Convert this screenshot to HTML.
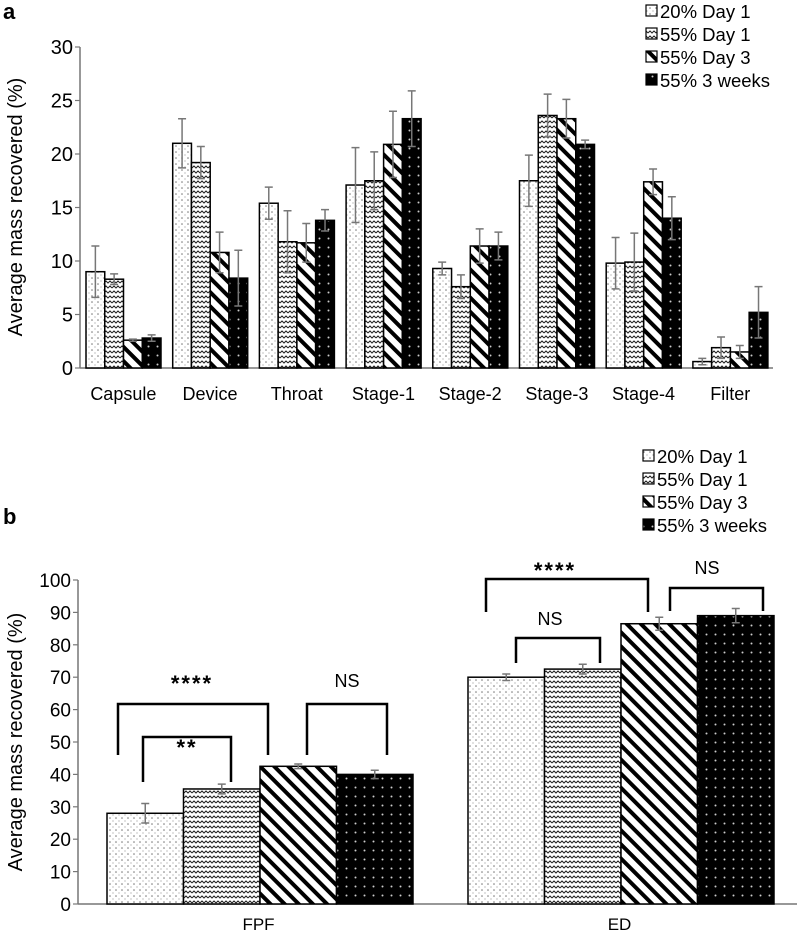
<!DOCTYPE html>
<html><head><meta charset="utf-8"><style>
body{margin:0;background:#fff}
svg{display:block;font-family:"Liberation Sans",sans-serif}
</style></head><body>
<svg id="c" width="800" height="937" viewBox="0 0 800 937">
<defs>
<pattern id="p0" width="6" height="6" patternUnits="userSpaceOnUse"><rect width="6" height="6" fill="#fff"/><circle cx="2" cy="2" r="0.8" fill="#777"/><circle cx="5" cy="5" r="0.6" fill="#999"/></pattern>
<pattern id="p1" width="8" height="5" patternUnits="userSpaceOnUse"><rect width="8" height="5" fill="#fff"/><path d="M0 3 L2 1 L4 3 L6 1 L8 3" fill="none" stroke="#222" stroke-width="1"/></pattern>
<pattern id="p2" width="10" height="10" patternUnits="userSpaceOnUse" patternTransform="rotate(-45)"><rect width="10" height="10" fill="#fff"/><rect width="4" height="10" fill="#000"/></pattern>
<pattern id="p3" width="9" height="9" patternUnits="userSpaceOnUse"><rect width="9" height="9" fill="#000"/><circle cx="4.5" cy="4.5" r="1" fill="#ccc"/></pattern>
</defs>
<text x="3" y="19" font-size="22" font-weight="bold">a</text>
<text x="3" y="524" font-size="22" font-weight="bold">b</text>
<g id="ga"></g>
<g id="gb"></g>
</svg>
<script>
const series = ["20% Day 1","55% Day 1","55% Day 3","55% 3 weeks"];
const catsA = ["Capsule","Device","Throat","Stage-1","Stage-2","Stage-3","Stage-4","Filter"];
const valsA0 = [9.0,21.0,15.4,17.1,9.3,17.5,9.8,0.6];
const valsA1 = [8.3,19.2,11.8,17.5,7.6,23.6,9.9,1.9];
const valsA2 = [2.6,10.8,11.7,20.9,11.4,23.3,17.4,1.5];
const valsA3 = [2.8,8.4,13.8,23.3,11.4,20.9,14.0,5.2];
const errA0 = [2.4,2.3,1.5,3.5,0.6,2.4,2.4,0.3];
const errA1 = [0.5,1.5,2.9,2.7,1.1,2.0,2.7,1.0];
const errA2 = [0.1,1.9,1.8,3.1,1.6,1.8,1.2,0.6];
const errA3 = [0.3,2.6,1.0,2.6,1.3,0.4,2.0,2.4];
const ticksA = [0,5,10,15,20,25,30];
const catsB = ["FPF","ED"];
const valsB0 = [28,70];
const valsB1 = [35.5,72.5];
const valsB2 = [42.5,86.5];
const valsB3 = [40,89];
const errB0 = [3,1];
const errB1 = [1.5,1.5];
const errB2 = [0.7,2];
const errB3 = [1.3,2.2];
const ticksB = [0,10,20,30,40,50,60,70,80,90,100];

const NS="http://www.w3.org/2000/svg";
function mk(p,t,a,txt){const e=document.createElementNS(NS,t);for(const k in a)e.setAttribute(k,a[k]);if(txt!==undefined)e.textContent=txt;p.appendChild(e);return e;}

function chart(g,cfg){
  const {x0,x1,y0,y1,max,ticks,cats,vals,errs,band,gw,off,labY,title,titleY,legY}=cfg;
  const ys=v=>y0-(v/max)*(y0-y1);
  const xs=i=>x0+i*band;
  const ax=mk(g,'line',{x1:x0,y1:y1,x2:x0,y2:y0,stroke:'#777','stroke-width':1.5});
  
  const bx=mk(g,'line',{x1:x0,y1:y0,x2:x1,y2:y0,stroke:'#777','stroke-width':1.5});
  
  ticks.forEach(t=>{
    mk(g,'line',{x1:x0-5,y1:ys(t),x2:x0,y2:ys(t),stroke:'#777','stroke-width':1.2});
    const tl=mk(g,'text',{x:x0-7,y:ys(t)+7,'text-anchor':'end','font-size':cfg.tickFs},t);
    
  });
  const tt=mk(g,'text',{transform:`translate(${cfg.titleX},${titleY}) rotate(-90)`,'text-anchor':'middle','font-size':20},title);
  
  const bw=gw/4;
  cats.forEach((c,i)=>{
    const cl=mk(g,'text',{x:xs(i)+band/2,y:labY,'text-anchor':'middle','font-size':cfg.catFs},c);
    
    for(let s=0;s<4;s++){
      const v=vals[s][i],e=errs[s][i];
      const bx0=xs(i)+off+s*bw;
      const r=mk(g,'rect',{x:bx0,y:ys(v),width:bw,height:y0-ys(v),fill:`url(#p${s})`,stroke:'#000','stroke-width':1.5});
      
      const cx=bx0+bw/2;
      const eb=mk(g,'path',{d:`M${cx} ${ys(v-e)}V${ys(v+e)}M${cx-4} ${ys(v+e)}H${cx+4}M${cx-4} ${ys(v-e)}H${cx+4}`,stroke:'#777','stroke-width':1.5,fill:'none'});
      
    }
  });
  const lg=mk(g,'g',{});
  
  series.forEach((s,i)=>{
    const y=legY+i*23;
    const sq=mk(lg,'rect',{x:cfg.legX,y:y-12,width:11,height:11,fill:`url(#p${i})`,stroke:'#000','stroke-width':1.2});
    
    const lt=mk(lg,'text',{x:cfg.legX+14,y:y+1,'font-size':18.5},s);
    
  });
}
chart(document.getElementById('ga'),{x0:80,x1:773,y0:368,y1:47,max:30,ticks:ticksA,cats:catsA,
  vals:[valsA0,valsA1,valsA2,valsA3],errs:[errA0,errA1,errA2,errA3],band:86.7,gw:75,off:6,labY:400,catFs:18,tickFs:20,
  title:"Average mass recovered (%)",titleX:22,titleY:207,legX:646,legY:17});
chart(document.getElementById('gb'),{x0:78,x1:797,y0:904,y1:580,max:100,ticks:ticksB,cats:catsB,
  vals:[valsB0,valsB1,valsB2,valsB3],errs:[errB0,errB1,errB2,errB3],band:361,gw:306,off:29,labY:930,catFs:17,tickFs:19,
  title:"Average mass recovered (%)",titleX:22,titleY:742,legX:643,legY:462});
const gb=document.getElementById('gb');
function brk(x1,x2,top,bot,label,lx,ly){
  const p=mk(gb,'path',{d:`M${x1} ${bot}V${top}H${x2}V${bot}`,stroke:'#000','stroke-width':2.5,fill:'none'});
  
  const star=label[0]==='*';
  const t=mk(gb,'text',{x:lx,y:star?ly+8:ly,'text-anchor':'middle','font-size':star?22:18,'font-weight':star?'bold':'normal','letter-spacing':star?2:0},label);
  
}
brk(118,268,704,755,"****",192,683);
brk(143,231,737,782,"**",187,747);
brk(307,387,704,755,"NS",347,687);
brk(486,648,579,612,"****",555,570);
brk(516,600,638,663,"NS",550,625);
brk(670,763,588,611,"NS",707,574);
</script>
</body></html>
